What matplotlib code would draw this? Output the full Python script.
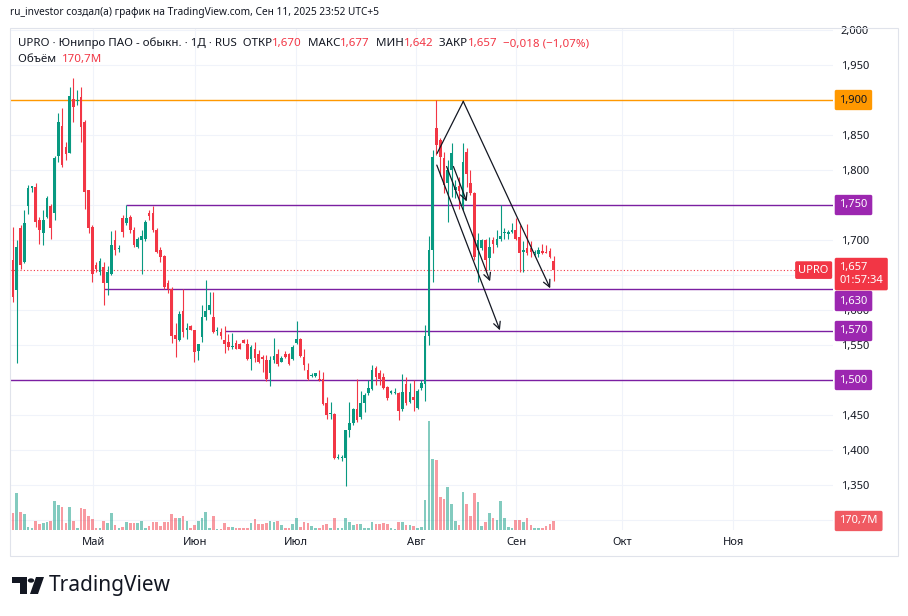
import matplotlib
matplotlib.use("Agg")
import matplotlib.pyplot as plt
import matplotlib.transforms as mtransforms
import numpy as np
from matplotlib.patches import Rectangle, Polygon, Circle

plt.rcParams['font.family'] = ['Noto Sans', 'DejaVu Sans']

# дневные свечи UPRO (апр - сен 2025)
opens = [1.672, 1.629, 1.717, 1.669, 1.748, 1.775, 1.776, 1.729, 1.710, 1.733,
         1.749, 1.738, 1.820, 1.863, 1.833, 1.825, 1.902, 1.899, 1.904, 1.869,
         1.771, 1.719, 1.665, 1.655, 1.662, 1.638, 1.651, 1.700, 1.687, 1.731,
         1.724, 1.733, 1.715, 1.690, 1.700, 1.701, 1.739, 1.739, 1.715, 1.686,
         1.677, 1.639, 1.630, 1.564, 1.557, 1.598, 1.571, 1.577, 1.571, 1.542,
         1.562, 1.590, 1.600, 1.590, 1.570, 1.568, 1.557, 1.555, 1.547, 1.553,
         1.551, 1.557, 1.551, 1.530, 1.545, 1.537, 1.533, 1.528, 1.510, 1.529,
         1.537, 1.526, 1.537, 1.537, 1.530, 1.553, 1.558, 1.533, 1.515, 1.506,
         1.506, 1.502, 1.501, 1.467, 1.452, 1.452, 1.389, 1.389, 1.388, 1.429,
         1.438, 1.458, 1.447, 1.467, 1.481, 1.487, 1.517, 1.510, 1.504, 1.490,
         1.481, 1.481, 1.481, 1.458, 1.495, 1.468, 1.476, 1.460, 1.488, 1.495,
         1.563, 1.686, 1.860, 1.843, 1.817, 1.781, 1.800, 1.772, 1.777, 1.748,
         1.826, 1.781, 1.767, 1.686, 1.688, 1.700, 1.674, 1.700, 1.693, 1.701,
         1.710, 1.709, 1.712, 1.715, 1.705, 1.683, 1.688, 1.688, 1.681, 1.680,
         1.684, 1.683, 1.685, 1.670]
highs = [1.719, 1.700, 1.721, 1.743, 1.779, 1.777, 1.782, 1.733, 1.743, 1.763,
         1.752, 1.820, 1.881, 1.888, 1.840, 1.919, 1.932, 1.914, 1.919, 1.871,
         1.771, 1.721, 1.668, 1.674, 1.669, 1.663, 1.713, 1.715, 1.693, 1.736,
         1.750, 1.736, 1.719, 1.705, 1.714, 1.729, 1.743, 1.748, 1.717, 1.690,
         1.679, 1.643, 1.633, 1.581, 1.598, 1.630, 1.581, 1.579, 1.572, 1.552,
         1.607, 1.643, 1.626, 1.626, 1.576, 1.574, 1.577, 1.566, 1.567, 1.557,
         1.553, 1.558, 1.558, 1.550, 1.555, 1.543, 1.536, 1.536, 1.534, 1.560,
         1.544, 1.534, 1.542, 1.538, 1.550, 1.585, 1.560, 1.545, 1.524, 1.510,
         1.510, 1.514, 1.512, 1.476, 1.469, 1.453, 1.395, 1.393, 1.429, 1.469,
         1.460, 1.501, 1.485, 1.481, 1.500, 1.521, 1.520, 1.515, 1.510, 1.491,
         1.486, 1.488, 1.483, 1.509, 1.504, 1.496, 1.500, 1.487, 1.500, 1.579,
         1.706, 1.829, 1.900, 1.846, 1.826, 1.814, 1.839, 1.786, 1.790, 1.838,
         1.831, 1.800, 1.769, 1.710, 1.702, 1.701, 1.705, 1.705, 1.714, 1.750,
         1.717, 1.714, 1.724, 1.731, 1.721, 1.698, 1.723, 1.698, 1.686, 1.690,
         1.695, 1.693, 1.688, 1.677]
lows = [1.612, 1.525, 1.658, 1.667, 1.737, 1.769, 1.719, 1.694, 1.693, 1.731,
        1.702, 1.729, 1.812, 1.805, 1.815, 1.824, 1.869, 1.893, 1.840, 1.744,
        1.710, 1.640, 1.655, 1.650, 1.607, 1.621, 1.650, 1.679, 1.683, 1.705,
        1.721, 1.710, 1.690, 1.688, 1.652, 1.699, 1.729, 1.712, 1.681, 1.669,
        1.630, 1.624, 1.553, 1.533, 1.556, 1.562, 1.559, 1.571, 1.526, 1.529,
        1.555, 1.586, 1.595, 1.567, 1.564, 1.559, 1.538, 1.543, 1.545, 1.544,
        1.544, 1.553, 1.529, 1.515, 1.526, 1.524, 1.512, 1.498, 1.491, 1.524,
        1.520, 1.526, 1.532, 1.521, 1.529, 1.552, 1.533, 1.514, 1.500, 1.505,
        1.505, 1.499, 1.464, 1.445, 1.445, 1.387, 1.387, 1.385, 1.348, 1.419,
        1.436, 1.440, 1.445, 1.455, 1.479, 1.486, 1.493, 1.493, 1.487, 1.471,
        1.480, 1.480, 1.443, 1.456, 1.464, 1.467, 1.456, 1.458, 1.486, 1.470,
        1.550, 1.640, 1.821, 1.791, 1.767, 1.726, 1.762, 1.760, 1.745, 1.743,
        1.776, 1.764, 1.671, 1.640, 1.686, 1.655, 1.657, 1.681, 1.690, 1.698,
        1.702, 1.702, 1.710, 1.700, 1.655, 1.655, 1.679, 1.676, 1.679, 1.676,
        1.680, 1.681, 1.674, 1.642]
closes = [1.619, 1.690, 1.664, 1.725, 1.774, 1.776, 1.726, 1.715, 1.728, 1.760,
          1.717, 1.817, 1.869, 1.807, 1.823, 1.905, 1.890, 1.900, 1.862, 1.768,
          1.717, 1.651, 1.658, 1.670, 1.638, 1.655, 1.693, 1.686, 1.689, 1.712,
          1.731, 1.714, 1.693, 1.702, 1.706, 1.726, 1.734, 1.714, 1.683, 1.676,
          1.633, 1.630, 1.563, 1.559, 1.594, 1.569, 1.575, 1.572, 1.540, 1.551,
          1.590, 1.599, 1.607, 1.569, 1.571, 1.563, 1.552, 1.547, 1.549, 1.545,
          1.545, 1.553, 1.530, 1.547, 1.532, 1.526, 1.530, 1.501, 1.529, 1.534,
          1.523, 1.532, 1.533, 1.523, 1.547, 1.558, 1.534, 1.521, 1.502, 1.507,
          1.510, 1.500, 1.466, 1.450, 1.453, 1.388, 1.390, 1.390, 1.428, 1.438,
          1.458, 1.443, 1.467, 1.479, 1.488, 1.514, 1.505, 1.502, 1.488, 1.474,
          1.484, 1.483, 1.456, 1.483, 1.467, 1.483, 1.471, 1.485, 1.496, 1.563,
          1.686, 1.819, 1.836, 1.819, 1.779, 1.800, 1.824, 1.776, 1.770, 1.812,
          1.795, 1.767, 1.676, 1.700, 1.700, 1.671, 1.690, 1.695, 1.702, 1.705,
          1.711, 1.712, 1.714, 1.702, 1.682, 1.686, 1.681, 1.683, 1.683, 1.686,
          1.682, 1.682, 1.676, 1.657]
# объём, млн
volumes = [316, 695, 348, 297, 63, 44, 177, 114, 139, 145,
           177, 556, 474, 430, 126, 442, 171, 44, 423, 398,
           272, 209, 44, 32, 171, 126, 316, 95, 44, 51,
           145, 126, 126, 126, 177, 44, 76, 158, 145, 76,
           145, 158, 297, 221, 221, 265, 177, 44, 95, 177,
           221, 348, 44, 272, 19, 19, 126, 63, 51, 44,
           32, 32, 44, 126, 209, 114, 114, 126, 177, 145,
           177, 95, 44, 32, 114, 221, 63, 158, 139, 82,
           32, 32, 95, 114, 44, 221, 32, 44, 221, 158,
           95, 114, 114, 44, 44, 145, 107, 114, 126, 114,
           32, 19, 158, 158, 95, 95, 82, 44, 63, 569,
           2054, 1346, 1315, 632, 588, 822, 487, 177, 95, 727,
           487, 272, 695, 537, 82, 145, 316, 221, 190, 550,
           234, 63, 44, 190, 190, 145, 234, 95, 44, 32,
           44, 82, 107, 170.7]

months = ['Май', 'Июн', 'Июл', 'Авг', 'Сен', 'Окт', 'Ноя']
month_pos = [21.2, 48.1, 74.9, 106.6, 133.1, 161.1, 190.5]
price_ticks = [1.30, 1.35, 1.40, 1.45, 1.50, 1.55, 1.60, 1.65, 1.70, 1.75,
               1.80, 1.85, 1.90, 1.95, 2.00]
# эти подписи шкалы закрыты плашками
hidden_ticks = [1.30, 1.50, 1.65, 1.75, 1.90]

# уровни: цена, с какой свечи начинается линия (None - на всю ширину), цвет
levels = [1.900, 1.750, 1.630, 1.570, 1.500]
level_start = [None, 30, 24, 56, None]
level_colors = ['#ff9800', '#7b1fa2', '#7b1fa2', '#7b1fa2', '#7b1fa2']
level_label_shift = [0, 0, -12, 0, 0]   # px, сдвиг плашки 1,630 вниз

# нарисованные стрелки (свеча, цена)
peak_path = [(112.2, 1.824), (119.1, 1.898), (142.1, 1.631)]
arrows = [((112.1, 1.807), (128.8, 1.571)),
          ((114.7, 1.805), (126.2, 1.641)),
          ((116.5, 1.805), (120.0, 1.755))]

GREEN = '#089981'
RED = '#f23645'
PURPLE = '#9c27b0'
TXT = '#131722'
GRID = '#f0f3fa'

W, H = 908, 616
fig = plt.figure(figsize=(W / 100, H / 100), dpi=100)
fig.patch.set_facecolor('white')


def fx(x):
    return x / W


def fy(y):
    return 1 - y / H


left, right, top, bottom = 10, 833, 28, 530
ax = fig.add_axes([fx(left), fy(bottom), (right - left) / W, (bottom - top) / H])
ax.set_ylim((1430 - bottom) / 700, (1430 - top) / 700)
ax.set_xlim(-0.79, 216.9)

x = np.arange(len(opens))
o = np.array(opens)
c = np.array(closes)
up = c >= o
cols = np.where(up, GREEN, RED)

# объём (twinx переставляет тики основной оси влево, поэтому сначала он)
axv = ax.twinx()
axv.set_ylim(0, max(volumes) * 4.62)
axv.set_yticks([])
for s in axv.spines.values():
    s.set_visible(False)
axv.bar(x, volumes, width=0.7, color=cols, alpha=0.5, linewidth=0)

# сетка и шкалы
ax.yaxis.tick_right()
ax.set_yticks(price_ticks)
ax.set_yticklabels(['' if any(abs(v - h) < 1e-9 for h in hidden_ticks)
                    else f'{v:.3f}'.replace('.', ',') for v in price_ticks])
ax.set_xticks(month_pos)
ax.set_xticklabels(months)
ax.grid(True, color=GRID, lw=0.8)
ax.set_axisbelow(True)
ax.tick_params(axis='y', which='both', left=False, right=False, labelleft=False,
               labelright=True, length=0, pad=5.5, labelsize=8, labelcolor=TXT)
ax.tick_params(axis='x', length=0, pad=5, labelsize=8, labelcolor=TXT)
for lab in ax.get_xticklabels():
    lab.set_fontweight('medium')
for s in ax.spines.values():
    s.set_visible(False)

# уровни
x0, x1 = ax.get_xlim()
for lv, st, lc in zip(levels, level_start, level_colors):
    ax.hlines(lv, x0 if st is None else st, x1, color=lc, lw=1.0, zorder=2)
ax.axhline(closes[-1], color=RED, lw=0.8, ls=(0, (1, 2)), zorder=2)

# свечи
ax.vlines(x, lows, highs, colors=cols, lw=0.8, zorder=3)
ax.bar(x, np.maximum(np.abs(c - o), 0.0015), bottom=np.minimum(o, c),
       width=0.7, color=cols, linewidth=0, zorder=4)

# стрелки
px, py = zip(*peak_path)
ax.plot(px[:2], py[:2], color=TXT, lw=0.9, zorder=5)
ax.annotate('', xy=peak_path[2], xytext=peak_path[1],
            arrowprops=dict(arrowstyle='->,head_length=0.5,head_width=0.25',
                            color=TXT, lw=0.9, shrinkA=0, shrinkB=0), zorder=5)
for a, b in arrows:
    ax.annotate('', xy=b, xytext=a,
                arrowprops=dict(arrowstyle='->,head_length=0.5,head_width=0.25',
                                color=TXT, lw=0.9, shrinkA=0, shrinkB=0), zorder=5)

# плашки на шкале цен
tr = mtransforms.blended_transform_factory(ax.transAxes, ax.transData)
box = dict(boxstyle='round,pad=0.42,rounding_size=0.15', ec='none')
for lv, lc, sh in zip(levels, level_colors, level_label_shift):
    fc = '#ff9800' if lc == '#ff9800' else PURPLE
    tc = TXT if lc == '#ff9800' else 'white'
    ax.annotate(f'{lv:.3f}'.replace('.', ','), xy=(1, lv), xycoords=tr,
                xytext=(4.6, sh * 0.72), textcoords='offset points',
                ha='left', va='center', fontsize=8, color=tc, fontweight='medium',
                bbox=dict(box, fc=fc), annotation_clip=False, zorder=10)

ax.annotate(f'{closes[-1]:.3f}'.replace('.', ',') + '\n01:57:34', xy=(1, closes[-1]),
            xycoords=tr, xytext=(4.6, 5.5), textcoords='offset points',
            ha='left', va='top', fontsize=8, color='white', linespacing=1.15,
            bbox=dict(box, fc=RED), annotation_clip=False, zorder=11)
ax.annotate('UPRO', xy=(1, closes[-1]), xycoords=tr, xytext=(-3, 0),
            textcoords='offset points', ha='right', va='center', fontsize=8,
            color='white', fontweight='medium',
            bbox=dict(boxstyle='round,pad=0.3,rounding_size=0.15', fc=RED, ec='none'),
            annotation_clip=False, zorder=11)
trv = mtransforms.blended_transform_factory(axv.transAxes, axv.transData)
axv.annotate(f'{volumes[-1]:.1f}'.replace('.', ',') + 'M', xy=(1, volumes[-1]),
             xycoords=trv, xytext=(4.6, 0), textcoords='offset points',
             ha='left', va='center', fontsize=8, color='white', fontweight='medium',
             bbox=dict(box, fc='#f05a62'), annotation_clip=False, zorder=11)

# рамка
fig.patches.append(Rectangle((fx(10), fy(556)), fx(898) - fx(10), fy(28) - fy(556),
                             transform=fig.transFigure, fill=False, ec='#e0e3eb', lw=0.8))

# заголовки
fig.text(fx(10), fy(12), 'ru_investor создал(а) график на TradingView.com, Сен 11, 2025 23:52 UTC+5',
         fontsize=7.3, color=TXT, va='center', ha='left')

segs = [('UPRO · Юнипро ПАО - обыкн. · 1Д · RUS  ОТКР', TXT), ('1,670', RED),
        ('  МАКС', TXT), ('1,677', RED), ('  МИН', TXT), ('1,642', RED),
        ('  ЗАКР', TXT), ('1,657', RED), ('  −0,018 (−1,07%)', RED)]
t = fig.text(fx(18), fy(49), segs[0][0], fontsize=8.3, color=segs[0][1], va='bottom')
for s, col in segs[1:]:
    t = ax.annotate(s, xy=(1, 0), xycoords=t, va='bottom', ha='left',
                    fontsize=8.3, color=col, annotation_clip=False)
t = fig.text(fx(18), fy(65), 'Объём  ', fontsize=8.3, color=TXT, va='bottom')
ax.annotate('170,7M', xy=(1, 0), xycoords=t, va='bottom', ha='left',
            fontsize=8.3, color=RED, annotation_clip=False)

# логотип
logo = [Polygon([(fx(12), fy(577)), (fx(27), fy(577)), (fx(27), fy(594)), (fx(20), fy(594)),
                 (fx(20), fy(583)), (fx(12), fy(583))], closed=True),
        Circle((fx(31), fy(580.5)), 3.2 / W),
        Polygon([(fx(36), fy(577)), (fx(44), fy(577)), (fx(38), fy(594)), (fx(30), fy(594))], closed=True)]
for p in logo:
    p.set_transform(fig.transFigure)
    p.set_facecolor(TXT)
    p.set_edgecolor('none')
    fig.patches.append(p)
fig.text(fx(49), fy(585.5), 'TradingView', fontsize=15, fontweight='bold', color=TXT,
         va='center', ha='left')

fig.savefig('out.png', dpi=100)
